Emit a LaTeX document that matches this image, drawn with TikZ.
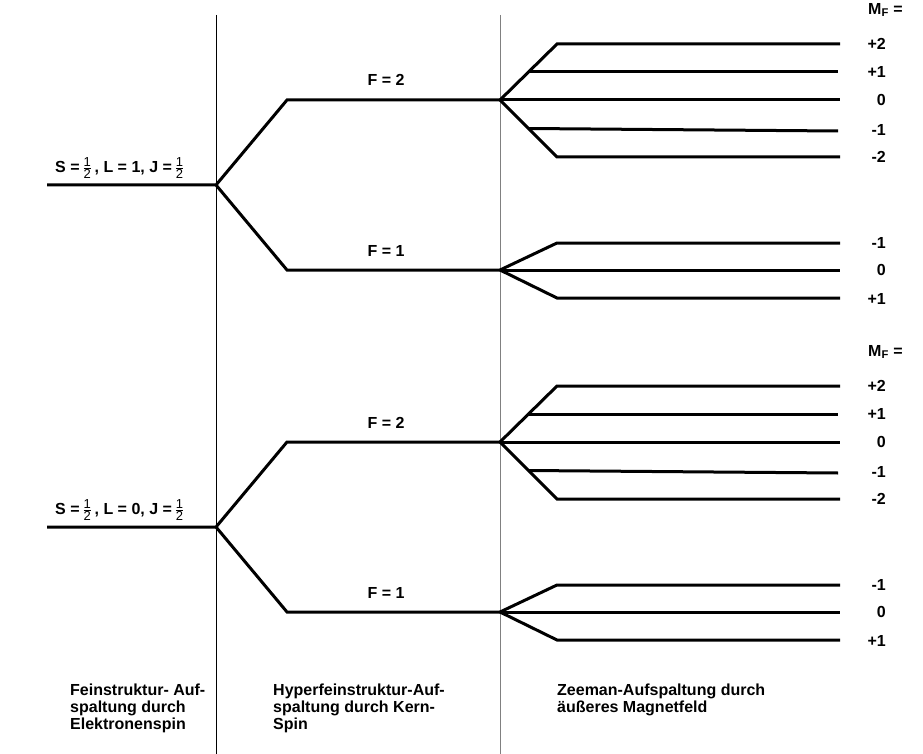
\documentclass[tikz,border=0pt]{standalone}
\usepackage{fontspec}
\setmainfont{Liberation Sans}
\usepackage{tikz}
\usetikzlibrary{positioning,calc}
\definecolor{trenngrau}{RGB}{128,128,128}
\newcommand{\lblfont}{\bfseries\fontsize{16}{17}\selectfont}
\newcommand{\halb}{$\frac{\mbox{\mdseries\fontsize{13}{13}\selectfont 1}}{\mbox{\mdseries\fontsize{13}{13}\selectfont 2}}$}
\tikzset{
  niveau/.style={line width=3pt},
  trenn/.style={line width=0.9pt},
  lbl/.style={font=\lblfont, inner sep=0pt},
  wert/.style={lbl, anchor=east},
  spalte/.style={lbl, anchor=north west, align=left}
}

\begin{document}
\begin{tikzpicture}[x=1pt, y=-1pt]
\useasboundingbox (0,0) rectangle (923,754);

% Trennlinien zwischen den Spalten
\coordinate (trennAo) at (216,15);
\coordinate (trennAu) at (216,754);
\coordinate (trennBo) at (500,15);
\coordinate (trennBu) at (500,754);
\draw[trenn] (trennAo) -- (trennAu);
\draw[trenn, trenngrau] (trennBo) -- (trennBu);

% Zwei Bloecke: oben L = 1, unten L = 0
\foreach \o/\L/\n in {0/1/a, 342/0/b} {%
  % Grundniveau und Hyperfeinstruktur
  \coordinate (s\n) at (47,185+\o);
  \coordinate (g\n) at (216,185+\o);
  \coordinate (fzA\n) at (287,100+\o);
  \coordinate (fzE\n) at (500,100+\o);
  \coordinate (feA\n) at (287,270+\o);
  \coordinate (feE\n) at (500,270+\o);
  \draw[niveau] (s\n) -- (g\n) -- (fzA\n) -- (fzE\n);
  \draw[niveau] (g\n) -- (feA\n) -- (feE\n);
  \node[lbl, anchor=south west] (sl\n) at (55,179+\o) {S =\,\halb\,, L = \L, J =\,\halb};
  \node[lbl, anchor=base] (tfz\n) at (386,86+\o) {F = 2};
  \node[lbl, anchor=base] (tfe\n) at (386,256+\o) {F = 1};

  % Zeeman F = 2
  \coordinate (zp2\n) at (557,44+\o);
  \coordinate (zp2e\n) at (840,44+\o);
  \coordinate (zp1\n) at ($(fzE\n)!0.5!(zp2\n)$);
  \coordinate (zp1e\n) at (838,72+\o);
  \coordinate (z0e\n) at (840,100+\o);
  \coordinate (zm2\n) at (557,157+\o);
  \coordinate (zm2e\n) at (840,157+\o);
  \coordinate (zm1\n) at ($(fzE\n)!0.5!(zm2\n)$);
  \coordinate (zm1e\n) at (838,131+\o);
  \draw[niveau] (fzE\n) -- (zp2\n) -- (zp2e\n);
  \draw[niveau] (zp1\n) -- (zp1e\n);
  \draw[niveau] (fzE\n) -- (z0e\n);
  \draw[niveau] (zm1\n) -- (zm1e\n);
  \draw[niveau] (fzE\n) -- (zm2\n) -- (zm2e\n);

  % Zeeman F = 1
  \coordinate (ym1\n) at (557,243+\o);
  \coordinate (ym1e\n) at (840,243+\o);
  \coordinate (y0e\n) at (840,270+\o);
  \coordinate (yp1\n) at (557,298+\o);
  \coordinate (yp1e\n) at (840,298+\o);
  \draw[niveau] (feE\n) -- (ym1\n) -- (ym1e\n);
  \draw[niveau] (feE\n) -- (y0e\n);
  \draw[niveau] (feE\n) -- (yp1\n) -- (yp1e\n);

  % M_F Werte
  \foreach \y/\m in {44/+2, 72/+1, 100/0, 130/-1, 157/-2, 243/-1, 270/0, 299/+1}
    \node[wert] (mf\n\y) at (886,\y+\o) {\m};
}

\node[lbl, anchor=west] (mfa) at (868,10) {M\textsubscript{F} =};
\node[lbl, anchor=west] (mfb) at (868,352) {M\textsubscript{F} =};

% Spaltenueberschriften unten
\node[spalte] (colA) at (70,684) {Feinstruktur- Auf-\\spaltung durch\\Elektronenspin};
\node[spalte] (colB) at (273,684) {Hyperfeinstruktur-Auf-\\spaltung durch Kern-\\Spin};
\node[spalte] (colC) at (557,684) {Zeeman-Aufspaltung durch\\äußeres Magnetfeld};

\end{tikzpicture}
\end{document}
